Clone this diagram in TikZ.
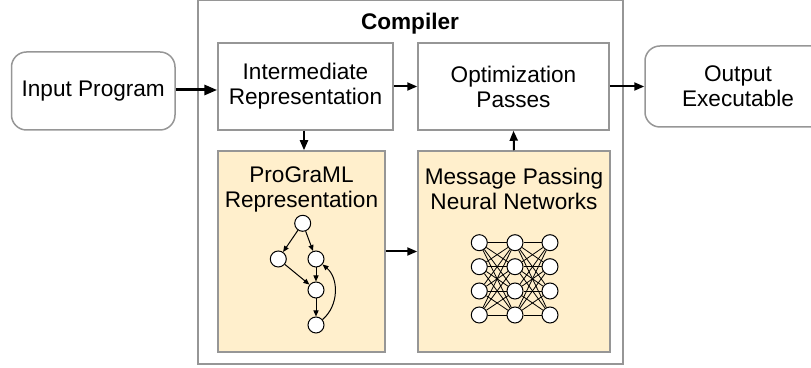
\documentclass[tikz,border=0pt]{standalone}
\usepackage{fontspec}
\setmainfont{Liberation Sans}
\usetikzlibrary{arrows.meta}
\definecolor{boxgray}{RGB}{150,150,150}
\definecolor{panelfill}{RGB}{255,239,204}
\tikzset{
	stage/.style={draw=boxgray, line width=0.75pt, align=center, inner sep=0pt},
	endpoint/.style={stage, rounded corners=7.5pt},
	panel/.style={stage, fill=panelfill},
	bigarrow/.style={line width=1.5pt, -{Triangle[length=6.5pt, width=5pt]}},
	midarrow/.style={line width=1pt, -{Triangle[length=5pt, width=4pt]}},
	gnode/.style={circle, draw, fill=white, minimum size=8pt, inner sep=0pt, line width=0.5pt},
	gedge/.style={line width=0.5pt, -{Triangle[length=3pt, width=2.5pt]}},
	nnedge/.style={line width=0.4pt},
}

\begin{document}
\begin{tikzpicture}[x=0.5pt, y=-0.5pt, font=\fontsize{11.3}{12.5}\selectfont]
		%%%%% START %%%%%
		\useasboundingbox (0, 0) rectangle (811, 368);
		
		\node[stage, minimum width=212.5pt, minimum height=181.75pt] (compiler) at (410.5, 182.25) {};
		\node[font=\fontsize{11.3}{12.5}\selectfont\bfseries] (compilertitle) at (410, 24) {Compiler};
		
		\node[endpoint, minimum width=81.75pt, minimum height=39pt] (input) at (93.25, 91) {Input Program};
		\node[stage, minimum width=87.5pt, minimum height=43.5pt] (ir) at (305.5, 86.5) {Intermediate\\Representation};
		\node[stage, minimum width=95.5pt, minimum height=43.5pt] (opt) at (513.5, 86.5) {Optimization\\Passes};
		\node[endpoint, minimum width=93pt, minimum height=40.5pt] (output) at (738, 86.5) {Output\\Executable};
		
		\node[panel, minimum width=83.5pt, minimum height=100.5pt] (prog) at (301.5, 251.5) {};
		\node[panel, minimum width=96pt, minimum height=100.5pt] (mpnn) at (514, 251.5) {};
		\node[align=center] (progtitle) at (301.5, 189) {ProGraML\\Representation};
		\node[align=center] (mpnntitle) at (514, 189) {Message Passing\\Neural Networks};
		
		\draw[bigarrow] (input.east |- 0, 90) -- (ir.west |- 0, 90);
		\draw[midarrow] (ir) -- (opt);
		\draw[midarrow] (opt) -- (output);
		\draw[midarrow] (ir.south -| 304, 0) -- (prog.north -| 304, 0);
		\draw[midarrow] (mpnn.north) -- (opt.south);
		\draw[midarrow] (prog) -- (mpnn);
		
		% program graph
		\node[gnode] (g1) at (302.7, 223.3) {};
		\node[gnode] (g2) at (278.3, 259) {};
		\node[gnode] (g3) at (316, 259) {};
		\node[gnode] (g4) at (316, 290) {};
		\node[gnode] (g5) at (316, 325) {};
		\draw[gedge] (g1) -- (g2);
		\draw[gedge] (g1) -- (g3);
		\draw[gedge] (g2) -- (g4);
		\draw[gedge] (g3) -- (g4);
		\draw[gedge] (g4) -- (g5);
		\draw[gedge] (g5) to[bend right=50] (g3);
		
		% network
		\foreach \c/\x in {1/479.3, 2/515, 3/550}
			\foreach \r/\y in {1/242.7, 2/266.7, 3/291, 4/315}
				\node[gnode] (nn-\c-\r) at (\x, \y) {};
		\foreach \c/\d in {1/2, 2/3}
			\foreach \r in {1,...,4}
				\foreach \s in {1,...,4}
					\draw[nnedge] (nn-\c-\r) -- (nn-\d-\s);
		
		%%%%% END %%%%%
	\end{tikzpicture}
\end{document}
